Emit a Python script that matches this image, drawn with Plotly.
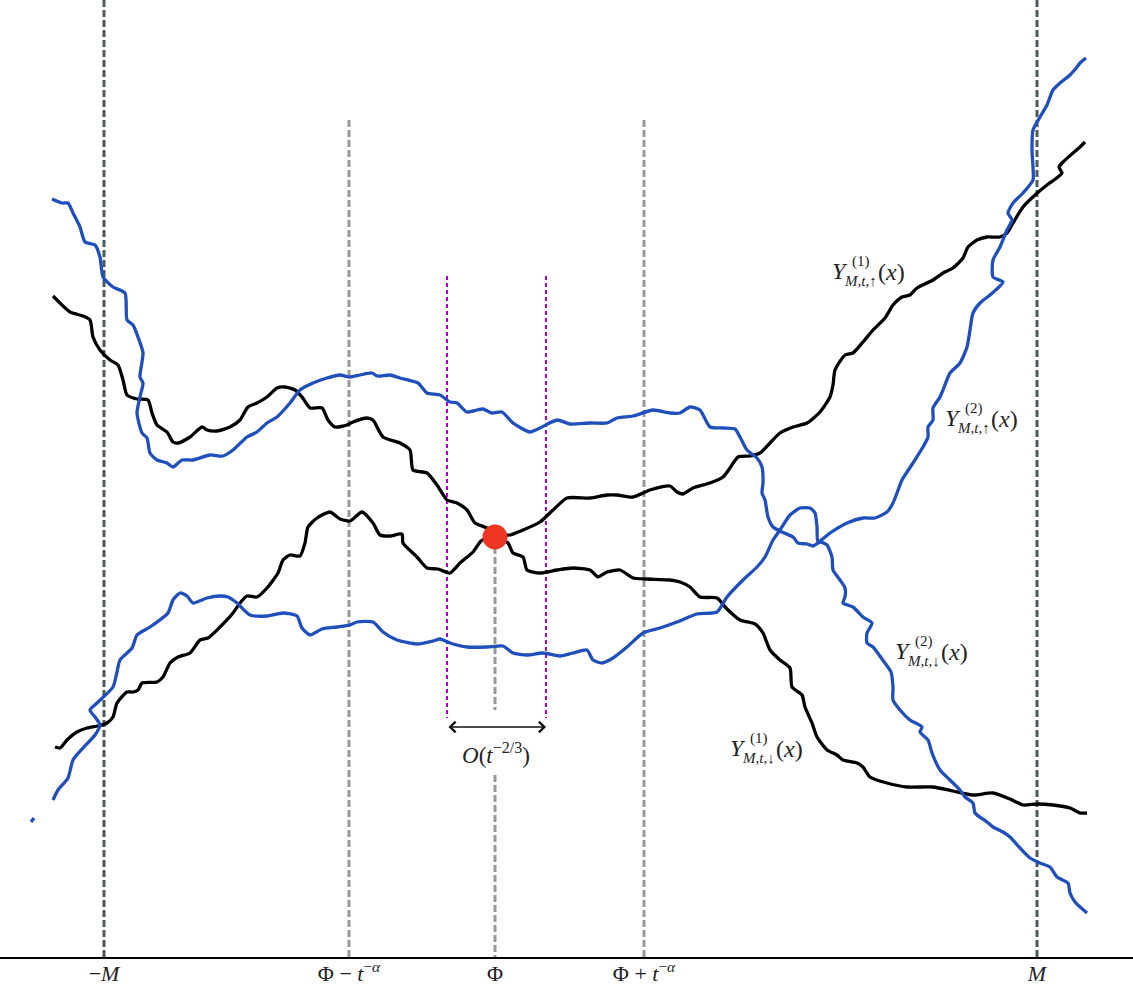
import plotly.graph_objects as go

up1_x = [55, 60, 67, 77, 87, 98, 107, 113, 117, 127, 133, 138, 142, 157, 163, 170, 178, 190, 200, 208, 220, 233, 240, 247, 257, 267, 278, 283, 290, 300, 305, 308, 317, 330, 340, 350, 362, 373, 380, 390, 402, 403, 417, 427, 438, 450, 460, 473, 481, 496, 510, 523, 540, 553, 567, 590, 607, 617, 633, 650, 670, 677, 683, 693, 710, 723, 730, 738, 750, 760, 770, 780, 793, 807, 820, 830, 833, 835, 845, 853, 863, 873, 885, 893, 902, 910, 917, 933, 943, 953, 963, 968, 977, 987, 1000, 1007, 1013, 1023, 1035, 1047, 1058, 1062, 1059, 1063, 1073, 1080, 1085]
up1_y = [747, 748, 740, 732, 728, 726, 723, 717, 703, 692, 692, 690, 683, 682, 677, 663, 657, 653, 640, 638, 627, 613, 603, 596, 597, 588, 573, 560, 555, 556, 543, 527, 518, 512, 519, 521, 512, 523, 535, 536, 534, 543, 557, 568, 569, 573, 563, 552, 541, 535, 535, 530, 522, 510, 498, 498, 495, 495, 497, 490, 486, 492, 494, 488, 483, 477, 468, 457, 456, 453, 443, 433, 427, 423, 412, 397, 385, 370, 355, 353, 342, 330, 318, 305, 297, 295, 288, 280, 273, 268, 258, 247, 240, 237, 237, 233, 223, 207, 195, 185, 177, 173, 167, 162, 153, 147, 142]

down1_x = [53, 60, 70, 83, 90, 93, 100, 110, 118, 123, 127, 137, 148, 152, 157, 167, 173, 178, 190, 202, 207, 217, 230, 240, 248, 257, 267, 277, 285, 295, 302, 310, 322, 328, 335, 347, 353, 367, 373, 383, 400, 410, 413, 427, 437, 447, 457, 467, 475, 487, 496, 508, 513, 523, 527, 540, 557, 573, 590, 598, 607, 620, 633, 647, 670, 680, 690, 700, 717, 727, 740, 755, 763, 770, 780, 790, 792, 802, 805, 812, 817, 827, 837, 843, 857, 863, 870, 887, 907, 933, 953, 973, 993, 1010, 1023, 1037, 1053, 1070, 1080, 1087]
down1_y = [296, 303, 312, 316, 320, 337, 350, 360, 365, 380, 395, 399, 400, 413, 425, 432, 442, 443, 437, 427, 430, 431, 427, 420, 407, 403, 397, 388, 387, 390, 397, 408, 408, 420, 427, 425, 422, 418, 420, 437, 443, 450, 470, 473, 485, 500, 503, 510, 523, 528, 537, 543, 553, 557, 570, 573, 570, 568, 570, 577, 572, 570, 578, 579, 580, 582, 587, 597, 598, 609, 620, 624, 633, 650, 660, 668, 687, 695, 707, 723, 737, 750, 755, 760, 763, 767, 777, 783, 787, 787, 791, 795, 793, 799, 805, 804, 805, 808, 813, 813]

up2_x = [53, 58, 68, 73, 83, 95, 100, 95, 90, 97, 113, 117, 120, 132, 137, 150, 168, 173, 180, 187, 193, 207, 220, 228, 237, 250, 267, 283, 297, 302, 310, 322, 337, 350, 357, 373, 383, 397, 417, 433, 440, 450, 467, 487, 503, 513, 527, 543, 560, 573, 587, 593, 602, 613, 627, 643, 660, 677, 697, 717, 727, 743, 757, 765, 773, 780, 790, 800, 810, 815, 817, 818, 830, 847, 863, 875, 887, 893, 897, 902, 913, 923, 928, 928, 933, 933, 940, 943, 950, 960, 967, 970, 973, 980, 990, 1003, 993, 993, 1000, 1007, 1012, 1008, 1013, 1023, 1033, 1033, 1032, 1033, 1040, 1047, 1053, 1060, 1070, 1077, 1080, 1086]
up2_y = [800, 790, 778, 760, 748, 735, 725, 717, 710, 703, 687, 672, 660, 648, 635, 627, 613, 600, 593, 596, 603, 598, 596, 597, 603, 615, 616, 613, 616, 628, 635, 629, 627, 625, 622, 622, 632, 640, 644, 641, 639, 643, 647, 647, 646, 653, 655, 653, 656, 653, 650, 660, 663, 658, 647, 633, 628, 622, 614, 612, 597, 580, 567, 557, 540, 530, 515, 508, 508, 513, 527, 542, 533, 523, 518, 518, 512, 503, 493, 480, 463, 447, 437, 427, 420, 408, 397, 390, 373, 363, 347, 330, 313, 303, 295, 282, 277, 260, 247, 230, 220, 213, 203, 193, 180, 167, 150, 130, 117, 105, 90, 83, 75, 67, 63, 58]

down2_x = [52, 62, 68, 73, 80, 85, 95, 100, 103, 113, 125, 127, 133, 138, 143, 140, 143, 140, 137, 142, 147, 150, 157, 167, 173, 182, 193, 210, 223, 233, 247, 257, 267, 277, 290, 300, 313, 327, 340, 350, 360, 372, 377, 390, 400, 418, 427, 440, 450, 457, 467, 477, 483, 492, 502, 513, 530, 540, 557, 570, 590, 607, 617, 633, 653, 670, 680, 690, 700, 710, 723, 735, 740, 747, 757, 762, 763, 762, 765, 768, 773, 782, 793, 798, 807, 813, 820, 827, 832, 833, 840, 845, 845, 843, 853, 863, 872, 867, 867, 873, 882, 891, 893, 893, 900, 910, 922, 920, 928, 932, 940, 950, 960, 965, 973, 975, 987, 993, 1003, 1010, 1020, 1030, 1040, 1050, 1057, 1068, 1070, 1075, 1087]
down2_y = [199, 203, 203, 213, 227, 242, 245, 257, 277, 287, 293, 320, 325, 337, 353, 377, 383, 397, 413, 433, 438, 453, 460, 463, 467, 460, 460, 455, 456, 450, 437, 432, 423, 417, 403, 390, 383, 378, 375, 377, 375, 373, 376, 375, 378, 383, 393, 395, 402, 403, 412, 410, 409, 413, 412, 423, 432, 428, 420, 424, 423, 423, 418, 416, 410, 413, 413, 407, 410, 427, 428, 429, 437, 450, 458, 467, 483, 493, 500, 517, 527, 532, 537, 543, 544, 546, 542, 545, 557, 570, 580, 588, 597, 603, 607, 617, 623, 633, 643, 647, 659, 672, 687, 700, 710, 720, 727, 732, 740, 753, 770, 780, 790, 797, 803, 813, 822, 827, 832, 837, 848, 858, 863, 867, 877, 883, 893, 902, 913]

stub_x = [31, 34]
stub_y = [822, 818]

tick_vals = [104, 349, 495, 644, 1037]
tick_text = ["−<i>M</i>", "Φ − <i>t</i><sup>−<i>α</i></sup>", "Φ", "Φ + <i>t</i><sup>−<i>α</i></sup>", "<i>M</i>"]

outer_lines = [104, 1037]
inner_lines = [349, 644]
window_lines = [447, 546]
crossing = (495, 537)

labels = [
    ("(1)", "M,t,↑", 830, 271),
    ("(2)", "M,t,↑", 943, 418),
    ("(2)", "M,t,↓", 893, 651),
    ("(1)", "M,t,↓", 728, 748),
]

BLACK = "#000000"
BLUE = "#1f4fbd"
FONT = "Liberation Serif"

fig = go.Figure()
for xs, ys, col in [(down1_x, down1_y, BLACK), (up1_x, up1_y, BLACK),
                    (down2_x, down2_y, BLUE), (up2_x, up2_y, BLUE), (stub_x, stub_y, BLUE)]:
    fig.add_trace(go.Scatter(x=xs, y=ys, mode="lines",
                             line=dict(color=col, width=3.3, shape="spline", smoothing=0.6),
                             hoverinfo="skip", showlegend=False))

fig.add_trace(go.Scatter(x=[crossing[0]], y=[crossing[1]], mode="markers",
                         marker=dict(size=25, color="#ee3524"), showlegend=False, hoverinfo="skip"))

shapes = []
for xv in outer_lines:
    shapes.append(dict(type="line", x0=xv, x1=xv, y0=0, y1=957, xref="x", yref="y", layer="below",
                       line=dict(color="#4d5a5a", width=3, dash="7px,3px")))
for xv in inner_lines:
    shapes.append(dict(type="line", x0=xv, x1=xv, y0=120, y1=957, xref="x", yref="y", layer="below",
                       line=dict(color="#999999", width=3, dash="7px,3px")))
for xv in window_lines:
    shapes.append(dict(type="line", x0=xv, x1=xv, y0=276, y1=718, xref="x", yref="y", layer="below",
                       line=dict(color="#b000d0", width=2, dash="4px,3px")))
for y0, y1 in [(crossing[1], 710), (775, 957)]:
    shapes.append(dict(type="line", x0=crossing[0], x1=crossing[0], y0=y0, y1=y1, xref="x", yref="y",
                       layer="below", line=dict(color="#999999", width=3, dash="7px,3px")))

annotations = [
    dict(x=window_lines[1], y=727, ax=window_lines[0], ay=727, xref="x", yref="y", axref="x", ayref="y",
         text="", showarrow=True, arrowhead=4, startarrowhead=4, arrowside="end+start",
         arrowsize=1.4, arrowwidth=1.5, arrowcolor="#111", standoff=0, startstandoff=0),
    dict(x=496, y=753, xref="x", yref="y", text="<i>O</i>(<i>t</i><sup>−2/3</sup>)", showarrow=False,
         font=dict(family=FONT, size=23, color="#222")),
]
for sup, sub, x0, yc in labels:
    annotations += [
        dict(x=x0, y=yc, text="<i>Y</i>", xanchor="left", yanchor="middle", showarrow=False,
             font=dict(family=FONT, size=24, color="#222")),
        dict(x=x0 + 20, y=yc - 10, text=sup, xanchor="left", yanchor="middle", showarrow=False,
             font=dict(family=FONT, size=15, color="#222")),
        dict(x=x0 + 12, y=yc + 10, text="<i>" + sub + "</i>", xanchor="left", yanchor="middle",
             showarrow=False, font=dict(family=FONT, size=15, color="#222")),
        dict(x=x0 + 46, y=yc + 1, text="(<i>x</i>)", xanchor="left", yanchor="middle", showarrow=False,
             font=dict(family=FONT, size=24, color="#222")),
    ]

fig.update_layout(
    width=1133, height=989, margin=dict(l=0, r=0, t=0, b=32),
    paper_bgcolor="white", plot_bgcolor="white",
    shapes=shapes, annotations=annotations,
    xaxis=dict(range=[0, 1133], showgrid=False, zeroline=False, showline=True, linecolor="#000",
               linewidth=1.5, tickvals=tick_vals, ticktext=tick_text, ticks="", ticklabelstandoff=-4,
               tickfont=dict(family=FONT, size=22, color="#222")),
    yaxis=dict(range=[957, 0], showgrid=False, zeroline=False, showticklabels=False, showline=False),
)
fig.write_html("out.html", config={"displayModeBar": False},
               post_script="document.body.style.margin='0';")
